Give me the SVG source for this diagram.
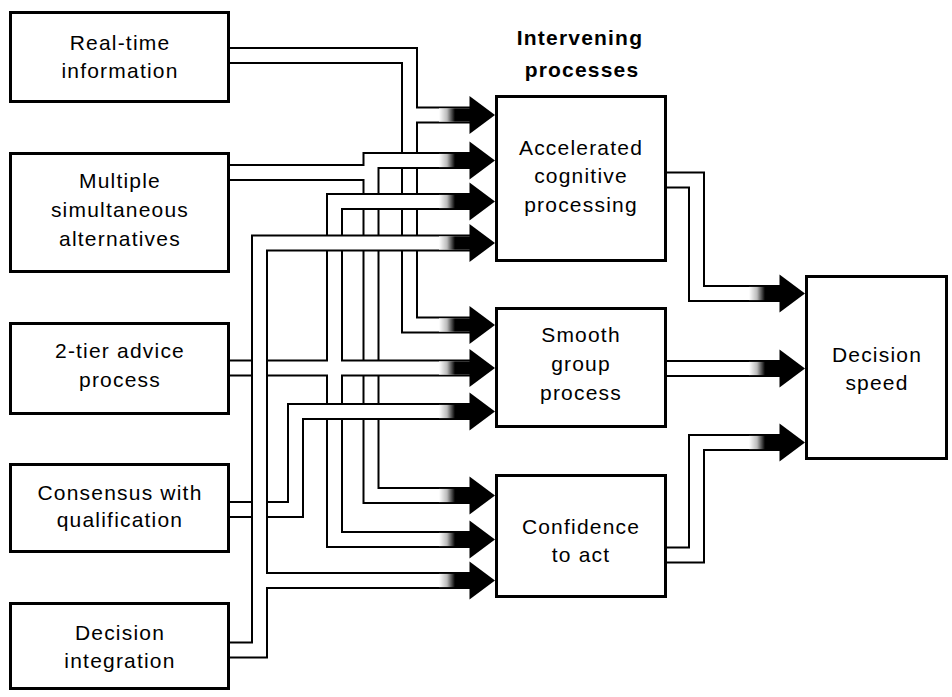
<svg xmlns="http://www.w3.org/2000/svg" width="952" height="697" viewBox="0 0 952 697">
<style>
.box{fill:#fff;stroke:#000;stroke-width:3}
.t{font-family:"Liberation Sans",Arial,sans-serif;font-size:21px;letter-spacing:1.2px;text-anchor:middle;fill:#000}
.tb{font-weight:bold}
.k{fill:none;stroke:#000;stroke-width:17;stroke-linejoin:miter}
.w{fill:none;stroke:#fff;stroke-width:13;stroke-linejoin:miter}
</style>
<defs>
<linearGradient id="fade" x1="0" y1="0" x2="1" y2="0">
<stop offset="0" stop-color="#fff"/>
<stop offset="0.25" stop-color="#bbb"/>
<stop offset="0.5" stop-color="#000"/>
<stop offset="1" stop-color="#000"/>
</linearGradient>
<g id="ah">
<rect x="-56" y="-6.6" width="32" height="13.2" fill="url(#fade)"/>
<polygon points="-25.5,-19 0,0 -25.5,19" fill="#000"/>
</g>
<path id="pRT" d="M229,55.5 H409.5 V325 H470 M409.5,115 H470"/>
<path id="pMU" d="M229,172.5 H371 M470,160.5 H371 V495.5 H470"/>
<path id="pTA" d="M229,368 H470 M470,201.5 H334.5 V539.5 H470"/>
<path id="pCO" d="M229,509.5 H295.5 V411.5 H470"/>
<path id="pDI" d="M229,650 H259.5 V243 H470 M259.5,580.5 H470"/>
<path id="pAC" d="M666,180 H696.5 V293.5 H780"/>
<path id="pSG" d="M666,368.5 H780"/>
<path id="pCF" d="M666,555 H696.5 V442.5 H780"/>
</defs>
<rect width="952" height="697" fill="#fff"/>

<g id="connectors">
<g id="c-realtime"><use href="#pRT" class="k"/><use href="#pRT" class="w"/></g>
<g id="c-multiple"><use href="#pMU" class="k"/><use href="#pMU" class="w"/></g>
<g id="c-twotier"><use href="#pTA" class="k"/><use href="#pTA" class="w"/></g>
<g id="c-consensus"><use href="#pCO" class="k"/><use href="#pCO" class="w"/></g>
<g id="c-integration"><use href="#pDI" class="k"/><use href="#pDI" class="w"/></g>
<g id="c-accel-out"><use href="#pAC" class="k"/><use href="#pAC" class="w"/></g>
<g id="c-smooth-out"><use href="#pSG" class="k"/><use href="#pSG" class="w"/></g>
<g id="c-conf-out"><use href="#pCF" class="k"/><use href="#pCF" class="w"/></g>
<g id="arrowheads">
<use href="#ah" x="495" y="115"/>
<use href="#ah" x="495" y="160.5"/>
<use href="#ah" x="495" y="201.5"/>
<use href="#ah" x="495" y="243"/>
<use href="#ah" x="495" y="325"/>
<use href="#ah" x="495" y="368"/>
<use href="#ah" x="495" y="411.5"/>
<use href="#ah" x="495" y="495.5"/>
<use href="#ah" x="495" y="539.5"/>
<use href="#ah" x="495" y="580.5"/>
<use href="#ah" x="805" y="293.5"/>
<use href="#ah" x="805" y="368.5"/>
<use href="#ah" x="805" y="442.5"/>
</g>
</g>

<g id="title">
<text class="t tb" x="580" y="45">Intervening</text>
<text class="t tb" x="582" y="77">processes</text>
</g>

<g id="node-realtime">
<rect class="box" x="10.5" y="12.5" width="218" height="89"/>
<text class="t" x="120" y="50">Real-time</text>
<text class="t" x="120" y="78">information</text>
</g>
<g id="node-multiple">
<rect class="box" x="10.5" y="153.5" width="218" height="118"/>
<text class="t" x="120" y="188">Multiple</text>
<text class="t" x="120" y="217">simultaneous</text>
<text class="t" x="120" y="246">alternatives</text>
</g>
<g id="node-twotier">
<rect class="box" x="10.5" y="323.5" width="218" height="90"/>
<text class="t" x="120" y="358">2-tier advice</text>
<text class="t" x="120" y="387">process</text>
</g>
<g id="node-consensus">
<rect class="box" x="10.5" y="464.5" width="218" height="87"/>
<text class="t" x="120" y="500">Consensus with</text>
<text class="t" x="120" y="527">qualification</text>
</g>
<g id="node-integration">
<rect class="box" x="10.5" y="603.5" width="218" height="85"/>
<text class="t" x="120" y="640">Decision</text>
<text class="t" x="120" y="668">integration</text>
</g>

<g id="node-accelerated">
<rect class="box" x="496.5" y="96.5" width="169" height="164"/>
<text class="t" x="581" y="155">Accelerated</text>
<text class="t" x="581" y="183">cognitive</text>
<text class="t" x="581" y="212">processing</text>
</g>
<g id="node-smooth">
<rect class="box" x="496.5" y="308.5" width="169" height="118"/>
<text class="t" x="581" y="342">Smooth</text>
<text class="t" x="581" y="371">group</text>
<text class="t" x="581" y="400">process</text>
</g>
<g id="node-confidence">
<rect class="box" x="496.5" y="475.5" width="169" height="121"/>
<text class="t" x="581" y="534">Confidence</text>
<text class="t" x="581" y="562">to act</text>
</g>
<g id="node-speed">
<rect class="box" x="806.5" y="276.5" width="140" height="182"/>
<text class="t" x="877" y="362">Decision</text>
<text class="t" x="877" y="390">speed</text>
</g>
</svg>
